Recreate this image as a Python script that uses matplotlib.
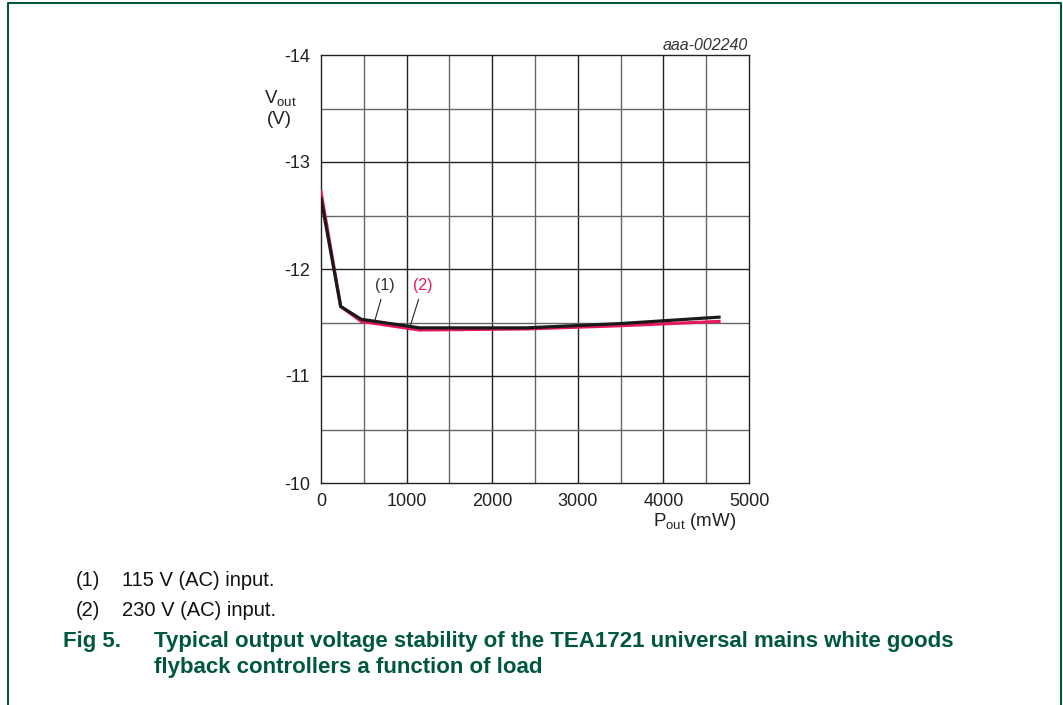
import numpy as np
import matplotlib.pyplot as plt
from matplotlib.lines import Line2D

plt.rcParams['font.family'] = ['Liberation Sans', 'DejaVu Sans']

# data
p_115 = [0, 230, 470, 1150, 2400, 3500, 4650]
v_115 = [-12.66, -11.65, -11.53, -11.45, -11.45, -11.49, -11.55]
p_230 = [0, 230, 470, 1150, 2400, 3500, 4650]
v_230 = [-12.72, -11.65, -11.51, -11.43, -11.44, -11.47, -11.51]

x_ticks = [0, 1000, 2000, 3000, 4000, 5000]
y_ticks = [-14, -13, -12, -11, -10]

green = '#00573f'
red = '#e8185c'

W, H = 1063, 705
fig = plt.figure(figsize=(W / 100, H / 100), dpi=100)
ax = fig.add_axes([321 / W, 1 - 483 / H, 428 / W, 428 / H])

# grid
for x in np.arange(500, 5000, 500):
    ax.axvline(x, color='#222222' if x % 1000 == 0 else '#666666', lw=1.0, zorder=1)
for y in np.arange(-13.5, -10, 0.5):
    ax.axhline(y, color='#222222' if y % 1 == 0 else '#666666', lw=1.0, zorder=1)

ax.plot(p_230, v_230, color=red, lw=2.3, zorder=3)
ax.plot(p_115, v_115, color='#1a1a1a', lw=2.3, zorder=4)

ax.set_xlim(0, 5000)
ax.set_ylim(-10, -14)
ax.set_xticks(x_ticks)
ax.set_yticks(y_ticks)
ax.set_yticklabels([str(t) for t in y_ticks])
ax.tick_params(length=0, labelsize=13, colors='#222222')
ax.tick_params(axis='x', pad=7)
ax.tick_params(axis='y', pad=8)
for s in ax.spines.values():
    s.set_linewidth(1.0)
    s.set_color('#222222')

# annotations
ax.annotate('(1)', xy=(630, -11.52), xytext=(748, -11.85),
            fontsize=11.5, color='#333333', ha='center', va='center',
            arrowprops=dict(arrowstyle='-', color='#222222', lw=0.8, shrinkA=3, shrinkB=0))
ax.annotate('(2)', xy=(1040, -11.46), xytext=(1192, -11.85),
            fontsize=11.5, color=red, ha='center', va='center',
            arrowprops=dict(arrowstyle='-', color='#222222', lw=0.8, shrinkA=3, shrinkB=0))

fig.text(748 / W, 1 - 45 / H, 'aaa-002240', fontsize=11.5, style='italic',
         color='#333333', ha='right', va='center')
fig.text(280 / W, 1 - 99 / H, r'V$_{\mathregular{out}}$', fontsize=13.5,
         color='#222222', ha='center', va='center')
fig.text(279 / W, 1 - 120 / H, '(V)', fontsize=13.5, color='#222222', ha='center', va='center')
fig.text(695 / W, 1 - 522 / H, r'P$_{\mathregular{out}}$ (mW)', fontsize=13.5,
         color='#222222', ha='center', va='center')

# captions
cap = dict(fontsize=14.5, color='#111111', va='center')
fig.text(76 / W, 1 - 580 / H, '(1)', **cap)
fig.text(122 / W, 1 - 580 / H, '115 V (AC) input.', **cap)
fig.text(76 / W, 1 - 610 / H, '(2)', **cap)
fig.text(122 / W, 1 - 610 / H, '230 V (AC) input.', **cap)
ttl = dict(fontsize=16, weight='bold', color=green, va='center')
fig.text(63 / W, 1 - 642 / H, 'Fig 5.', **ttl)
fig.text(154 / W, 1 - 642 / H,
         'Typical output voltage stability of the TEA1721 universal mains white goods', **ttl)
fig.text(154 / W, 1 - 667 / H, 'flyback controllers a function of load', **ttl)

# page frame
fig.add_artist(Line2D([8 / W, 8 / W, 1061 / W, 1061 / W], [0, 1 - 3 / H, 1 - 3 / H, 0],
                      color=green, lw=1.5, transform=fig.transFigure))

fig.savefig('out.png', dpi=100)
